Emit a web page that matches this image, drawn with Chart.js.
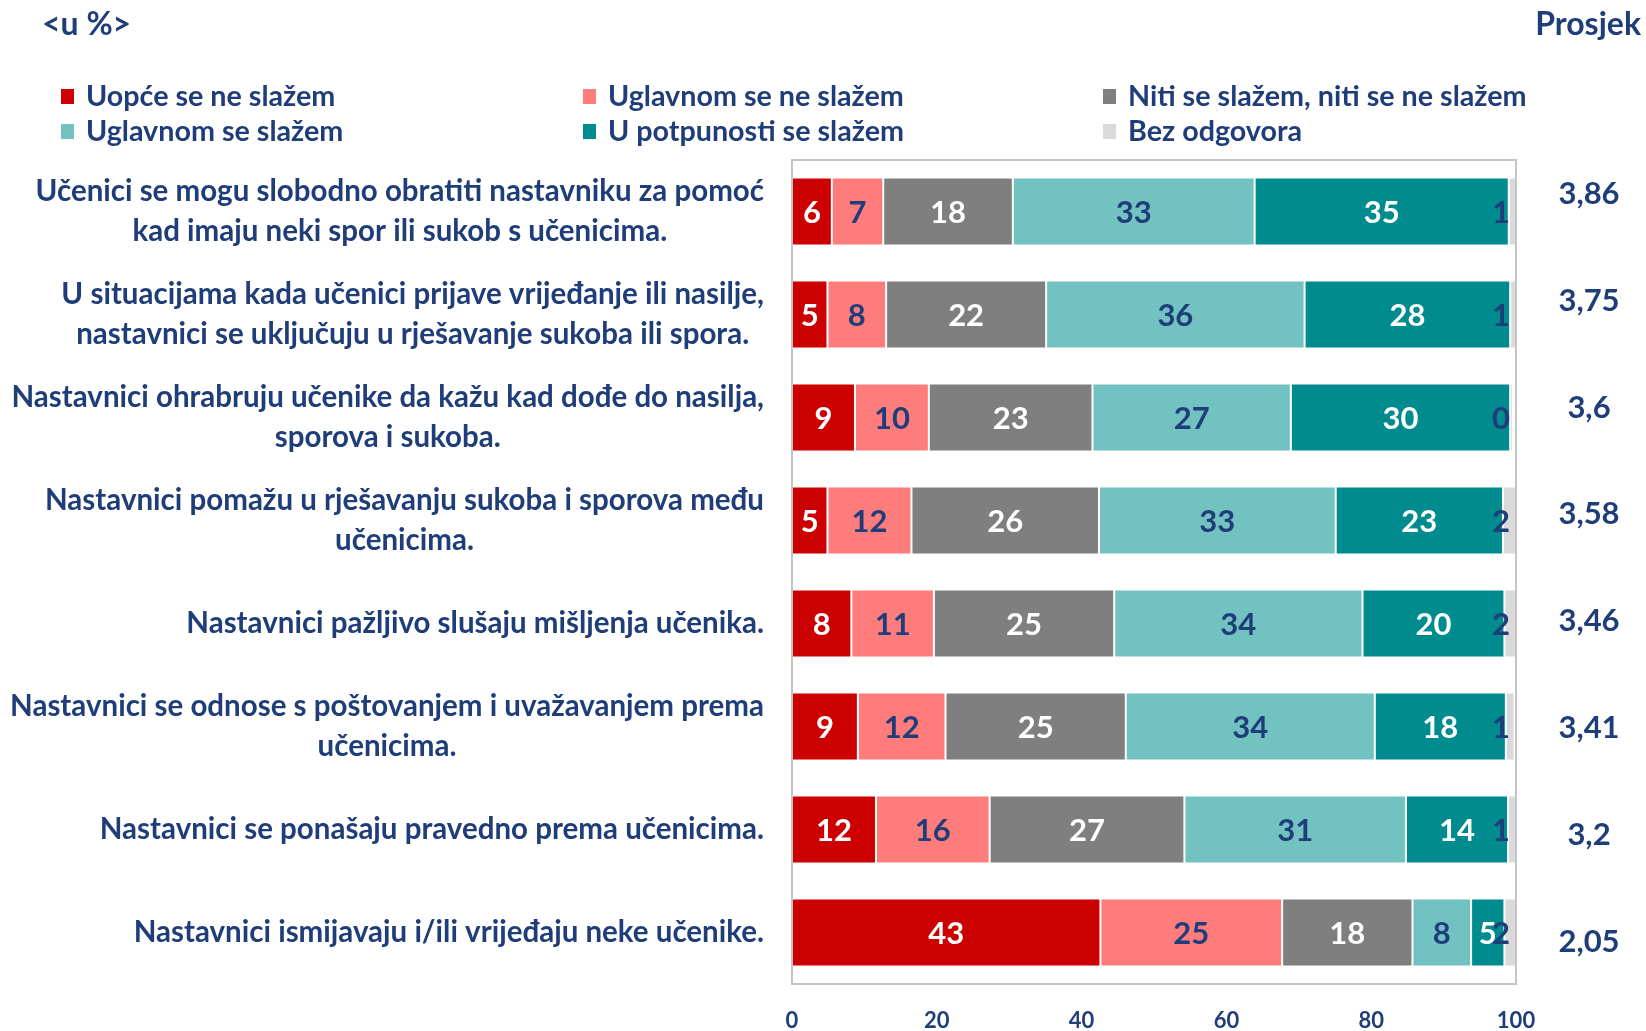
<!DOCTYPE html>
<html><head><meta charset="utf-8">
<script src="https://cdn.jsdelivr.net/npm/chart.js@4/dist/chart.umd.min.js"></script>
<style>html,body{margin:0;padding:0;background:#fff}#wrap{width:1646px;height:1031px;position:relative}</style>
</head><body><div id="wrap"><canvas id="c"></canvas></div>
<script>
const categories = [
  ["Učenici se mogu slobodno obratiti nastavniku za pomoć", "kad imaju neki spor ili sukob s učenicima."],
  ["U situacijama kada učenici prijave vrijeđanje ili nasilje,", "nastavnici se uključuju u rješavanje sukoba ili spora."],
  ["Nastavnici ohrabruju učenike da kažu kad dođe do nasilja,", "sporova i sukoba."],
  ["Nastavnici pomažu u rješavanju sukoba i sporova među", "učenicima."],
  ["Nastavnici pažljivo slušaju mišljenja učenika."],
  ["Nastavnici se odnose s poštovanjem i uvažavanjem prema", "učenicima."],
  ["Nastavnici se ponašaju pravedno prema učenicima."],
  ["Nastavnici ismijavaju i/ili vrijeđaju neke učenike."]
];
const seriesNames = ["Uopće se ne slažem", "Uglavnom se ne slažem", "Niti se slažem, niti se ne slažem",
  "Uglavnom se slažem", "U potpunosti se slažem", "Bez odgovora"];
const uopceNe    = [5.5, 4.9, 8.7, 4.9, 8.2, 9.1, 11.6, 42.6];
const uglavnomNe = [7.1, 8.1, 10.2, 11.6, 11.4, 12.1, 15.7, 25.1];
const nitiNiti   = [17.9, 22.1, 22.6, 25.9, 24.9, 24.9, 26.9, 18.0];
const uglavnomDa = [33.4, 35.7, 27.4, 32.7, 34.3, 34.4, 30.6, 8.1];
const potpunoDa  = [35.1, 28.4, 30.3, 23.1, 19.6, 18.1, 14.1, 4.6];
const bezOdg     = [1.0, 0.8, 0.4, 1.8, 1.6, 1.2, 1.1, 1.6];
const averages   = [3.86, 3.75, 3.6, 3.58, 3.46, 3.41, 3.2, 2.05];
const xTicks     = [0, 20, 40, 60, 80, 100];

const colors = ["#CC0000", "#FF7C7C", "#7F7F7F", "#72C2C2", "#008C8F", "#DADADA"];
const labelColors = ["#ffffff", "#1F3D78", "#ffffff", "#1F3D78", "#ffffff", "#1F3D78"];
const TXT = "#1F3D78";
const FONT = "Lato";

const seriesValues = [uopceNe, uglavnomNe, nitiNiti, uglavnomDa, potpunoDa, bezOdg];

const extrasPlugin = {
  id: 'extras',
  afterDatasetsDraw(chart) {
    const ctx = chart.ctx;
    const ca = chart.chartArea;
    ctx.save();
    ctx.font = "bold 31px " + FONT;
    ctx.textBaseline = "middle";
    ctx.textAlign = "center";
    chart.data.datasets.forEach((ds, di) => {
      const meta = chart.getDatasetMeta(di);
      meta.data.forEach((bar, i) => {
        const txt = String(Math.round(ds.data[i]));
        const w = ctx.measureText(txt).width;
        let cx = (bar.x + bar.base) / 2;
        if (cx + w / 2 > ca.right - 6) cx = ca.right - 6 - w / 2;
        ctx.fillStyle = labelColors[di];
        ctx.fillText(txt, cx, bar.y + 1);
      });
    });
    ctx.restore();
  },
  afterDraw(chart) {
    const ctx = chart.ctx;
    const ca = chart.chartArea;
    const y = chart.scales.y;
    ctx.save();
    ctx.strokeStyle = "#C4C4C4";
    ctx.lineWidth = 2;
    ctx.strokeRect(ca.left, ca.top, ca.right - ca.left, ca.bottom - ca.top);
    ctx.fillStyle = TXT;
    ctx.font = "bold 29.5px " + FONT;
    ctx.textBaseline = "middle";
    ctx.textAlign = "center";
    const rightEdge = ca.left - 28;
    chart.data.labels.forEach((lines, i) => {
      const yc = y.getPixelForValue(i);
      const w = Math.max(...lines.map(l => ctx.measureText(l).width));
      const cx = rightEdge - w / 2;
      lines.forEach((l, j) => {
        ctx.fillText(l, cx, yc + (j - (lines.length - 1) / 2) * 40);
      });
    });
    ctx.font = "bold 31px " + FONT;
    averages.forEach((v, i) => {
      ctx.fillText(String(v).replace('.', ','), 1589, ca.top + 34 + i * 106.8);
    });
    ctx.font = "bold 32px " + FONT;
    ctx.textAlign = "left";
    ctx.fillText("<u %>", 42, 25);
    ctx.textAlign = "right";
    ctx.fillText("Prosjek", 1641, 25);
    ctx.font = "bold 28.7px " + FONT;
    ctx.textAlign = "left";
    const colX = [61, 583, 1103];
    const rowY = [97, 132];
    chart.data.datasets.forEach((ds, di) => {
      const cx = colX[di % 3], cy = rowY[Math.floor(di / 3)];
      ctx.fillStyle = ds.backgroundColor;
      ctx.fillRect(cx, cy - 8, 13, 15);
      ctx.fillStyle = TXT;
      ctx.fillText(ds.label, cx + 25, cy);
    });
    ctx.restore();
  }
};

new Chart(document.getElementById('c'), {
  type: 'bar',
  data: {
    labels: categories,
    datasets: seriesNames.map((name, k) => ({
      label: name,
      data: seriesValues[k],
      backgroundColor: colors[k],
      borderColor: "#ffffff",
      borderWidth: 1,
      borderSkipped: false,
      barPercentage: 0.66,
      categoryPercentage: 1.0
    }))
  },
  options: {
    indexAxis: 'y',
    responsive: true,
    maintainAspectRatio: false,
    animation: false,
    events: [],
    layout: { padding: { left: 0, right: 130, top: 160, bottom: 0 } },
    plugins: { legend: { display: false }, tooltip: { enabled: false } },
    scales: {
      x: {
        stacked: true, min: 0, max: 100,
        afterBuildTicks: (s) => { s.ticks = xTicks.map(v => ({ value: v })); },
        afterFit: (s) => { s.height = 47; },
        grid: { display: false, drawTicks: false },
        border: { display: false },
        ticks: { padding: 24, color: TXT, font: { family: FONT, size: 22, weight: 'bold' } }
      },
      y: {
        stacked: true,
        afterFit: (s) => { s.width = 792; },
        grid: { display: false, drawTicks: false },
        border: { display: false },
        ticks: { display: false }
      }
    }
  },
  plugins: [extrasPlugin]
});
</script>
</body></html>
